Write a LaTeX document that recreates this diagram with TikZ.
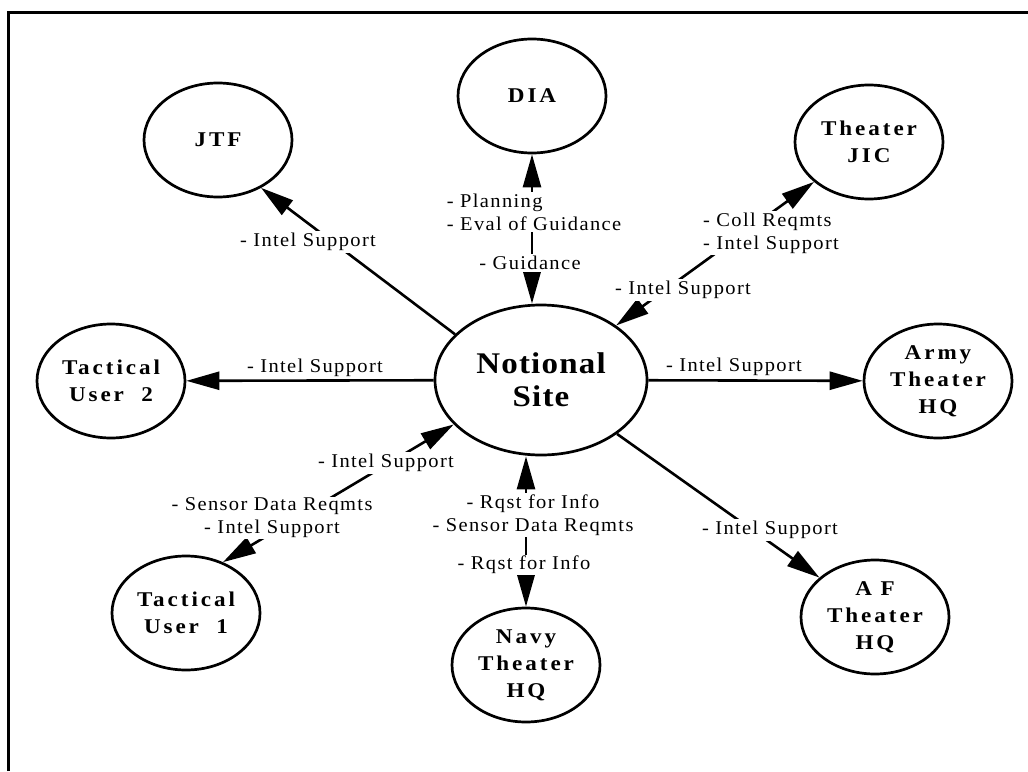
\documentclass[tikz,border=0pt]{standalone}
\usepackage{fontspec}
\setmainfont{Liberation Serif}
\newfontfamily\lblfont{Liberation Serif}[FakeStretch=1.05,LetterSpace=7]
\newfontfamily\nodefont{Liberation Serif}[FakeStretch=1.1,LetterSpace=14]
\newfontfamily\bigfont{Liberation Serif}[FakeStretch=1.1,LetterSpace=4]
\usetikzlibrary{shapes.geometric,arrows.meta}
\tikzset{
  site/.style={ellipse, draw, line width=2.7pt, minimum width=148pt, minimum height=114pt,
    inner sep=0pt, align=center, font=\nodefont\bfseries\fontsize{21}{27}\selectfont},
  hub/.style={site, minimum width=212pt, minimum height=150pt,
    font=\bigfont\bfseries\fontsize{30}{33}\selectfont},
  lbl/.style={font=\lblfont\fontsize{19.5}{23}\selectfont, inner sep=2pt},
  mask/.style={lbl, fill=white},
  link/.style={line width=2.6pt, -{Triangle[length=33pt,width=18pt]}},
  link2/.style={line width=2.6pt, {Triangle[length=33pt,width=18pt]}-{Triangle[length=33pt,width=18pt]}},
  frame/.style={line width=3pt}
}
\begin{document}
\begin{tikzpicture}[x=1pt,y=-1pt]
\useasboundingbox (0,0) rectangle (1028,771);
\draw[frame] (8,771) -- (8,12) -- (1028,12);

\node[site] (jtf) at (218,140) {JTF};
\node[site] (dia) at (532,96) {DIA};
\node[site] (jic) at (869,142) {Theater\\JIC};
\node[site] (tu2) at (111,381) {Tactical\\User\ \ 2};
\node[hub]  (ns)  at (541,380) {Notional\\Site};
\node[site] (army) at (938,381) {Army\\Theater\\HQ};
\node[site] (tu1) at (186,613) {Tactical\\User\ \ 1};
\node[site] (navy) at (526,665) {Navy\\Theater\\HQ};
\node[site] (af) at (875,617) {A F\\Theater\\HQ};

\draw[link] (ns.152) -- (jtf.312);
\draw[link] (ns) -- (tu2);
\draw[link] (ns) -- (army);
\draw[link] (ns) -- (af);
\draw[link2] (ns) -- (jic);
\draw[link2] (ns.north -| dia.south) -- (dia.south);
\draw[link2] (ns.south -| navy.north) -- (navy.north);
\draw[link2] (ns.207.6) -- (tu1.54);

\node[mask] (l1) at (308,242) {- Intel Support};
\node[lbl] (l2) at (315,368) {- Intel Support};
\node[lbl] (l3) at (734,367) {- Intel Support};
\node[mask] (l4) at (770,530) {- Intel Support};
\node[mask, align=left] (l5) at (534,212) {- Planning\\- Eval of Guidance};
\node[mask] (l6) at (530,263) {- Guidance};
\node[mask, align=left] (l7) at (771,233) {- Coll Reqmts\\- Intel Support};
\node[mask] (l8) at (683,290) {- Intel Support};
\node[mask] (l9) at (386,463) {- Intel Support};
\node[mask, align=center, inner sep=0.5pt] (l10) at (272,518) {- Sensor Data Reqmts\\- Intel Support};
\node[mask, align=center] (l11) at (533,515) {- Rqst for Info\\- Sensor Data Reqmts};
\node[mask, inner sep=1pt] (l12) at (524,565) {- Rqst for Info};
\end{tikzpicture}
\end{document}
